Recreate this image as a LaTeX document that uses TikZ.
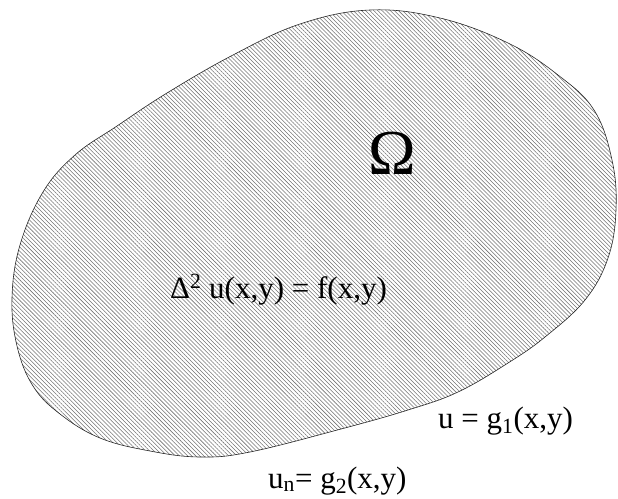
\documentclass[tikz,border=0pt]{standalone}
\usepackage{fontspec}
\setmainfont{Liberation Serif}
\usepackage{tikz}
\usetikzlibrary{patterns.meta}
\tikzset{
  region/.style={draw=black!85, line width=0.6pt,
    pattern={Lines[angle=-45, distance=2.9pt, line width=0.55pt]}, pattern color=black!55},
  lbl/.style={inner sep=0pt, font=\fontsize{31}{34}\selectfont}
}

\begin{document}
\begin{tikzpicture}[x=1pt, y=-1pt]
\useasboundingbox (0,0) rectangle (618,498);
\draw [region] plot [smooth cycle, tension=0.65] coordinates {
  (370,10) (440,18) (508,43) (558,75) (594,110) (612,160) (616,210)
  (608,258) (585,300) (545,337) (508,363) (458,392) (408,410) (341,429)
  (250,452) (200,457) (150,451) (100,438) (60,414) (33,386)
  (17,346) (12,298) (20,245) (43,192) (75,155) (117,126)
  (167,93) (233,55) (300,24)};
\node [lbl, font=\fontsize{64}{66}\selectfont] (omega) at (392,153) {Ω};
\node [lbl, anchor=base west] (pde) at (170,298) {Δ\textsuperscript{2} u(x,y) = f(x,y)};
\node [lbl, anchor=base west] (dirichlet) at (438,428) {u = g\textsubscript{1}(x,y)};
\node [lbl, anchor=base west] (neumann) at (268,488) {u\textsubscript{n}= g\textsubscript{2}(x,y)};
\end{tikzpicture}
\end{document}
